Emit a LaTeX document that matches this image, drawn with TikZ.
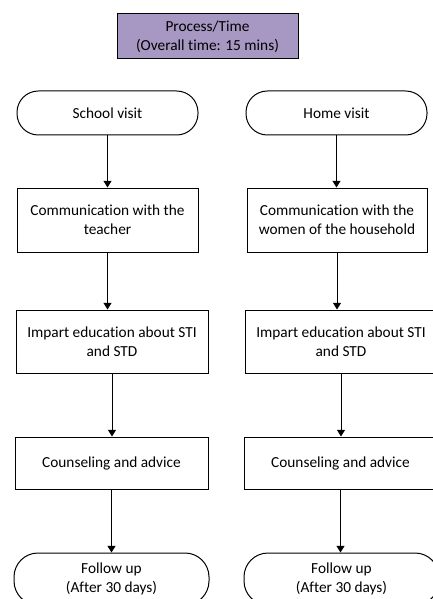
\documentclass[tikz,border=0pt]{standalone}
\usepackage{fontspec}
\setmainfont[Ligatures=NoCommon]{Carlito}
\usetikzlibrary{arrows.meta,positioning}
\definecolor{headerpurple}{RGB}{166,152,194}
\tikzset{
  header/.style={draw=black, line width=0.75pt, fill=headerpurple, align=center, inner sep=1pt},
  terminal/.style={draw=black, line width=0.75pt, rounded corners=16pt, align=center, inner sep=1pt},
  process/.style={draw=black, line width=0.75pt, align=center, inner sep=1pt},
  arrow/.style={-{Triangle[length=5pt, width=6pt]}, line width=0.75pt}
}

\begin{document}
\begin{tikzpicture}[x=0.75pt, y=-0.75pt, font=\fontsize{11.5pt}{14.25pt}\selectfont]
  \useasboundingbox (0,0) rectangle (432,599);
  \node[header, minimum width=135.75pt, minimum height=33.75pt] (title) at (207.5,36.5) {Process/Time\\(Overall time: 15 mins)};
  % school visit
  \node[terminal, minimum width=135.75pt, minimum height=33pt] (school) at (107.5,113) {School visit};
  \node[process, minimum width=135.75pt, minimum height=48pt] (schoolcomm) at (107.5,220) {Communication with the\\teacher};
  \node[process, minimum width=144pt, minimum height=47.25pt] (schooledu) at (112,341.5) {Impart education about STI\\and STD};
  \node[process, minimum width=144.75pt, minimum height=39pt] (schoolcounsel) at (111.5,463) {Counseling and advice};
  \node[terminal, rounded corners=18pt, minimum width=146.25pt, minimum height=39pt] (schoolfollow) at (111.5,579) {Follow up\\(After 30 days)};
  % home visit
  \node[terminal, minimum width=135.75pt, minimum height=33pt] (home) at (336.5,113) {Home visit};
  \node[process, minimum width=135pt, minimum height=48pt] (homecomm) at (337,220) {Communication with the\\women of the household};
  \node[process, minimum width=144pt, minimum height=47.25pt] (homeedu) at (341,341.5) {Impart education about STI\\and STD};
  \node[process, minimum width=144.75pt, minimum height=39pt] (homecounsel) at (340.5,463) {Counseling and advice};
  \node[terminal, rounded corners=18pt, minimum width=146.25pt, minimum height=39pt] (homefollow) at (341.5,579) {Follow up\\(After 30 days)};
  \draw[arrow] (school.south) -- (school.south |- schoolcomm.north);
  \draw[arrow] (schoolcomm.south) -- (schoolcomm.south |- schooledu.north);
  \draw[arrow] (schooledu.south) -- (schooledu.south |- schoolcounsel.north);
  \draw[arrow] (schoolcounsel.south) -- (schoolcounsel.south |- schoolfollow.north);
  \draw[arrow] (home.south) -- (home.south |- homecomm.north);
  \draw[arrow] (homecomm.south) -- (homecomm.south |- homeedu.north);
  \draw[arrow] (homeedu.south) -- (homeedu.south |- homecounsel.north);
  \draw[arrow] (homecounsel.south) -- (homecounsel.south |- homefollow.north);
\end{tikzpicture}
\end{document}
